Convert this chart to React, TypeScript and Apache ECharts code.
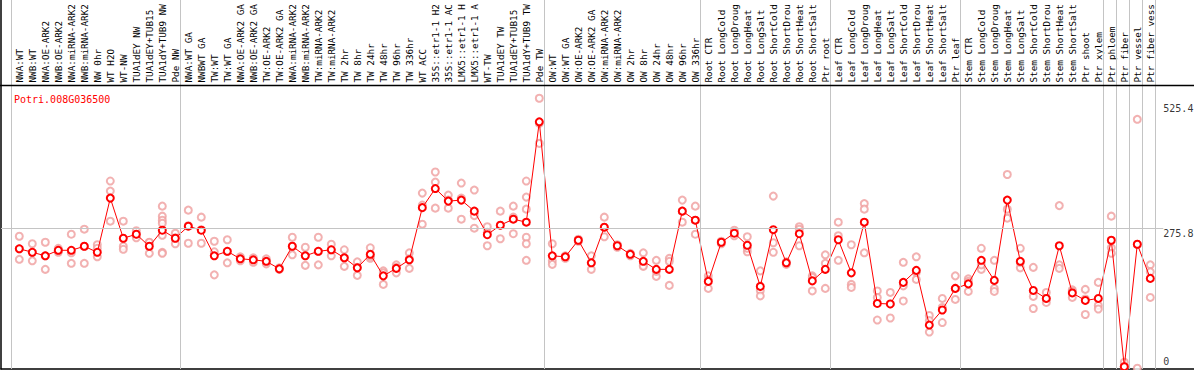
import React, { useEffect, useRef } from "react";
import * as echarts from "echarts";

// Category labels as visible in the reference (cut at the top edge there)
const categories: string[] = [
  "NWA:WT", "NWB:WT", "NWA:OE-ARK2", "NWB:OE-ARK2", "NWA:miRNA-ARK2", "NWB:miRNA-ARK2", "NW 0hr", "WT H2O", "WT-NW",
  "TUA1dEY NW", "TUA1dEY+TUB15", "TUA1dY+TUB9 NW", "Pde NW",
  "NWA:WT GA", "NWBWT GA", "TW:WT", "TW:WT GA", "NWA:OE-ARK2 GA", "NWB:OE-ARK2 GA", "TW:OE-ARK2", "TW:OE-ARK2 GA",
  "NWA:miRNA-ARK2", "NWB:miRNA-ARK2", "TW:miRNA-ARK2", "TW:miRNA-ARK2", "TW 2hr", "TW 8hr", "TW 24hr", "TW 48hr",
  "TW 96hr", "TW 336hr", "WT ACC", "35S::etr1-1 H2", "35S::etr1-1 AC", "LMX5::etr1-1 H", "LMX5::etr1-1 A",
  "WT-TW", "TUA1dEY TW", "TUA1dEY+TUB15", "TUA1dY+TUB9 TW", "Pde TW",
  "OW:WT", "OW:WT GA", "OW:OE-ARK2", "OW:OE-ARK2 GA", "OW:miRNA-ARK2", "OW:miRNA-ARK2", "OW 2hr", "OW 8hr",
  "OW 24hr", "OW 48hr", "OW 96hr", "OW 336hr",
  "Root CTR", "Root LongCold", "Root LongDroug", "Root LongHeat", "Root LongSalt", "Root ShortCold",
  "Root ShortDrou", "Root ShortHeat", "Root ShortSalt", "Ptr root",
  "Leaf CTR", "Leaf LongCold", "Leaf LongDroug", "Leaf LongHeat", "Leaf LongSalt", "Leaf ShortCold",
  "Leaf ShortDrou", "Leaf ShortHeat", "Leaf ShortSalt", "Ptr leaf",
  "Stem CTR", "Stem LongCold", "Stem LongDroug", "Stem LongHeat", "Stem LongSalt", "Stem ShortCold",
  "Stem ShortDrou", "Stem ShortHeat", "Stem ShortSalt", "Ptr shoot", "Ptr xylem",
  "Ptr phloem", "Ptr fiber", "Ptr vessel", "Ptr fiber vess",
];

const means: number[] = [
  235, 228, 221, 232, 232, 240, 228, 336, 256, 264, 240, 272, 256,
  280, 272, 221, 230, 215, 213, 210, 195, 240, 221, 230, 233, 217, 197, 224, 181, 196, 213, 317,
  355, 330, 332, 310, 263, 282, 294, 288, 488,
  221, 219, 252, 207, 278, 241, 224, 210, 194, 194, 310, 292,
  170, 248, 266, 242, 160, 273, 207, 265, 171, 194,
  253, 187, 288, 126, 125, 168, 192, 83, 113, 156,
  165, 212, 172, 332, 210, 152, 136, 241, 147, 132, 136,
  252, 0, 244, 176,
];

const replicates: number[][] = [
  [260, 214, 235], [245, 211, 228], [248, 194, 221], [236, 228, 232], [264, 206, 227], [274, 206, 240],
  [243, 236, 219], [370, 350, 290], [290, 240, 234], [271, 257, 264], [247, 226, 248],
  [320, 300, 292, 286, 262, 228, 226], [266, 245, 257],
  [312, 246, 281], [298, 246, 273], [250, 183, 229], [253, 207, 230], [219, 211], [217, 208], [215, 205],
  [197, 194], [258, 223, 240], [238, 202, 222], [258, 203, 230], [244, 221, 233], [233, 200, 217],
  [209, 182, 198], [237, 216, 220], [191, 164, 187], [203, 187, 198], [227, 196, 215], [346, 284, 322],
  [388, 368, 316], [342, 316, 332], [366, 294, 336], [352, 301, 276], [279, 241, 268], [310, 255, 282],
  [320, 265, 298], [370, 338, 314, 258, 245, 212], [535, 445, 485],
  [245, 211, 204], [221, 216], [254, 250], [221, 194, 207], [298, 259, 278], [243, 238], [226, 221],
  [227, 202, 200], [212, 180, 190], [216, 210, 162], [332, 288, 310], [320, 264, 292],
  [181, 156, 173], [250, 245], [272, 261], [259, 229, 236], [191, 152, 141], [340, 247, 228], [209, 204],
  [279, 241, 274], [181, 151, 178], [223, 206, 156],
  [288, 261, 212], [243, 164, 158], [325, 314, 227], [151, 138, 93], [148, 125, 97], [208, 161, 131],
  [219, 174, 188], [102, 92, 69], [136, 118, 88], [181, 134, 156],
  [175, 150, 170], [236, 194, 203], [212, 156, 150], [383, 314, 296], [236, 197, 208], [198, 140, 116],
  [148, 128, 136], [321, 203, 196], [153, 138, 150], [154, 104, 135], [168, 122, 115],
  [300, 237, 226], [9, 0, 0], [493, -3, 244], [203, 189, 138],
];

// index of first category of each group (last entry = end)
const groupStarts: number[] = [0, 13, 41, 53, 63, 73, 84, 85, 86, 87, 88];

const yTickValues: number[] = [525.4, 275.8, 0];
const yTickLabels: string[] = ["525.4", "275.8", "0"];
const geneName = "Potri.008G036500";

const MONO = "'DejaVu Sans Mono', 'Liberation Mono', monospace";

export default function App() {
  const ref = useRef<HTMLDivElement>(null);
  useEffect(() => {
    if (!ref.current) return;
    const chart = echarts.init(ref.current, undefined, { renderer: "svg" });
    const W = 1194;
    const step = 13;
    const firstX = 19.3;
    const xMin = (1 - firstX) / step;
    const xMax = (W - firstX) / step;
    const catLeft = firstX - step / 2;
    const catRight = W - catLeft - step * categories.length;

    const repData: number[][] = [];
    replicates.forEach((arr, i) => arr.forEach((v) => repData.push([i, v])));
    const meanData = means.map((v, i) => [i, v]);

    const sepLines = groupStarts.map((g) => ({ xAxis: g - 0.65 }));

    chart.setOption({
      animation: false,
      title: {
        text: geneName,
        left: 9,
        top: 89,
        textStyle: { color: "#ff0000", fontSize: 10, fontFamily: MONO, fontWeight: "normal" },
      },
      grid: [
        { left: 1, right: 0, top: 0, bottom: 1 },
        { left: catLeft, right: catRight, top: 0, height: 85 },
      ],
      xAxis: [
        {
          type: "value",
          gridIndex: 0,
          min: xMin,
          max: xMax,
          axisLine: { show: true, onZero: false, lineStyle: { color: "#000", width: 1.5 } },
          axisTick: { show: false },
          axisLabel: { show: false },
          splitLine: { show: false },
        },
        {
          type: "category",
          gridIndex: 1,
          data: categories,
          boundaryGap: true,
          axisLine: { show: false },
          axisTick: { show: false },
          splitLine: { show: false },
          axisLabel: {
            inside: true,
            rotate: 90,
            interval: 0,
            margin: 2.5,
            fontSize: 9.3,
            fontFamily: MONO,
            color: "#000",
          },
        },
      ],
      yAxis: [
        {
          type: "value",
          gridIndex: 0,
          min: -4.6,
          max: 730.8,
          axisLine: { show: true, onZero: false, lineStyle: { color: "#000", width: 1.5 } },
          axisTick: { show: false },
          axisLabel: { show: false },
          splitLine: { show: false },
        },
        { type: "value", gridIndex: 1, show: false },
      ],
      graphic: [
        {
          type: "line",
          shape: { x1: 0, y1: 85.5, x2: W, y2: 85.5 },
          style: { stroke: "#000", lineWidth: 1.5 },
          z: 10,
        },
      ],
      series: [
        {
          type: "scatter",
          name: "replicates",
          xAxisIndex: 0,
          yAxisIndex: 0,
          z: 2,
          data: repData,
          symbol: "emptyCircle",
          symbolSize: 7,
          itemStyle: { color: "#ef9d9d", borderColor: "#ef9d9d", borderWidth: 1.2 },
          markLine: {
            silent: true,
            symbol: "none",
            animation: false,
            label: { show: false },
            lineStyle: { color: "#c4c4c4", width: 1, type: "solid" },
            data: [
              ...sepLines,
              [{ coord: [xMin, yTickValues[1]] }, { coord: [88, yTickValues[1]] }],
            ],
          },
        },
        {
          type: "line",
          name: "mean",
          xAxisIndex: 0,
          yAxisIndex: 0,
          z: 3,
          data: meanData,
          symbol: "emptyCircle",
          symbolSize: 7,
          lineStyle: { color: "#ff0000", width: 1 },
          itemStyle: { color: "#ff0000", borderColor: "#ee0000", borderWidth: 1.6 },
        },
        {
          type: "scatter",
          name: "yticks",
          xAxisIndex: 0,
          yAxisIndex: 0,
          z: 4,
          symbolSize: 0,
          data: yTickValues.map((v, k) => ({
            value: [88, v],
            label: {
              show: true,
              formatter: () => yTickLabels[k],
              position: [0, 0],
              align: "left",
              verticalAlign: k === yTickValues.length - 1 ? "bottom" : "top",
              fontSize: 10,
              fontFamily: MONO,
              color: "#000",
            },
          })),
        },
      ],
    });
    return () => chart.dispose();
  }, []);
  return (
    <div
      ref={ref}
      style={{ position: "absolute", left: 0, top: 0, width: 1194, height: 370, background: "#fff" }}
    />
  );
}
